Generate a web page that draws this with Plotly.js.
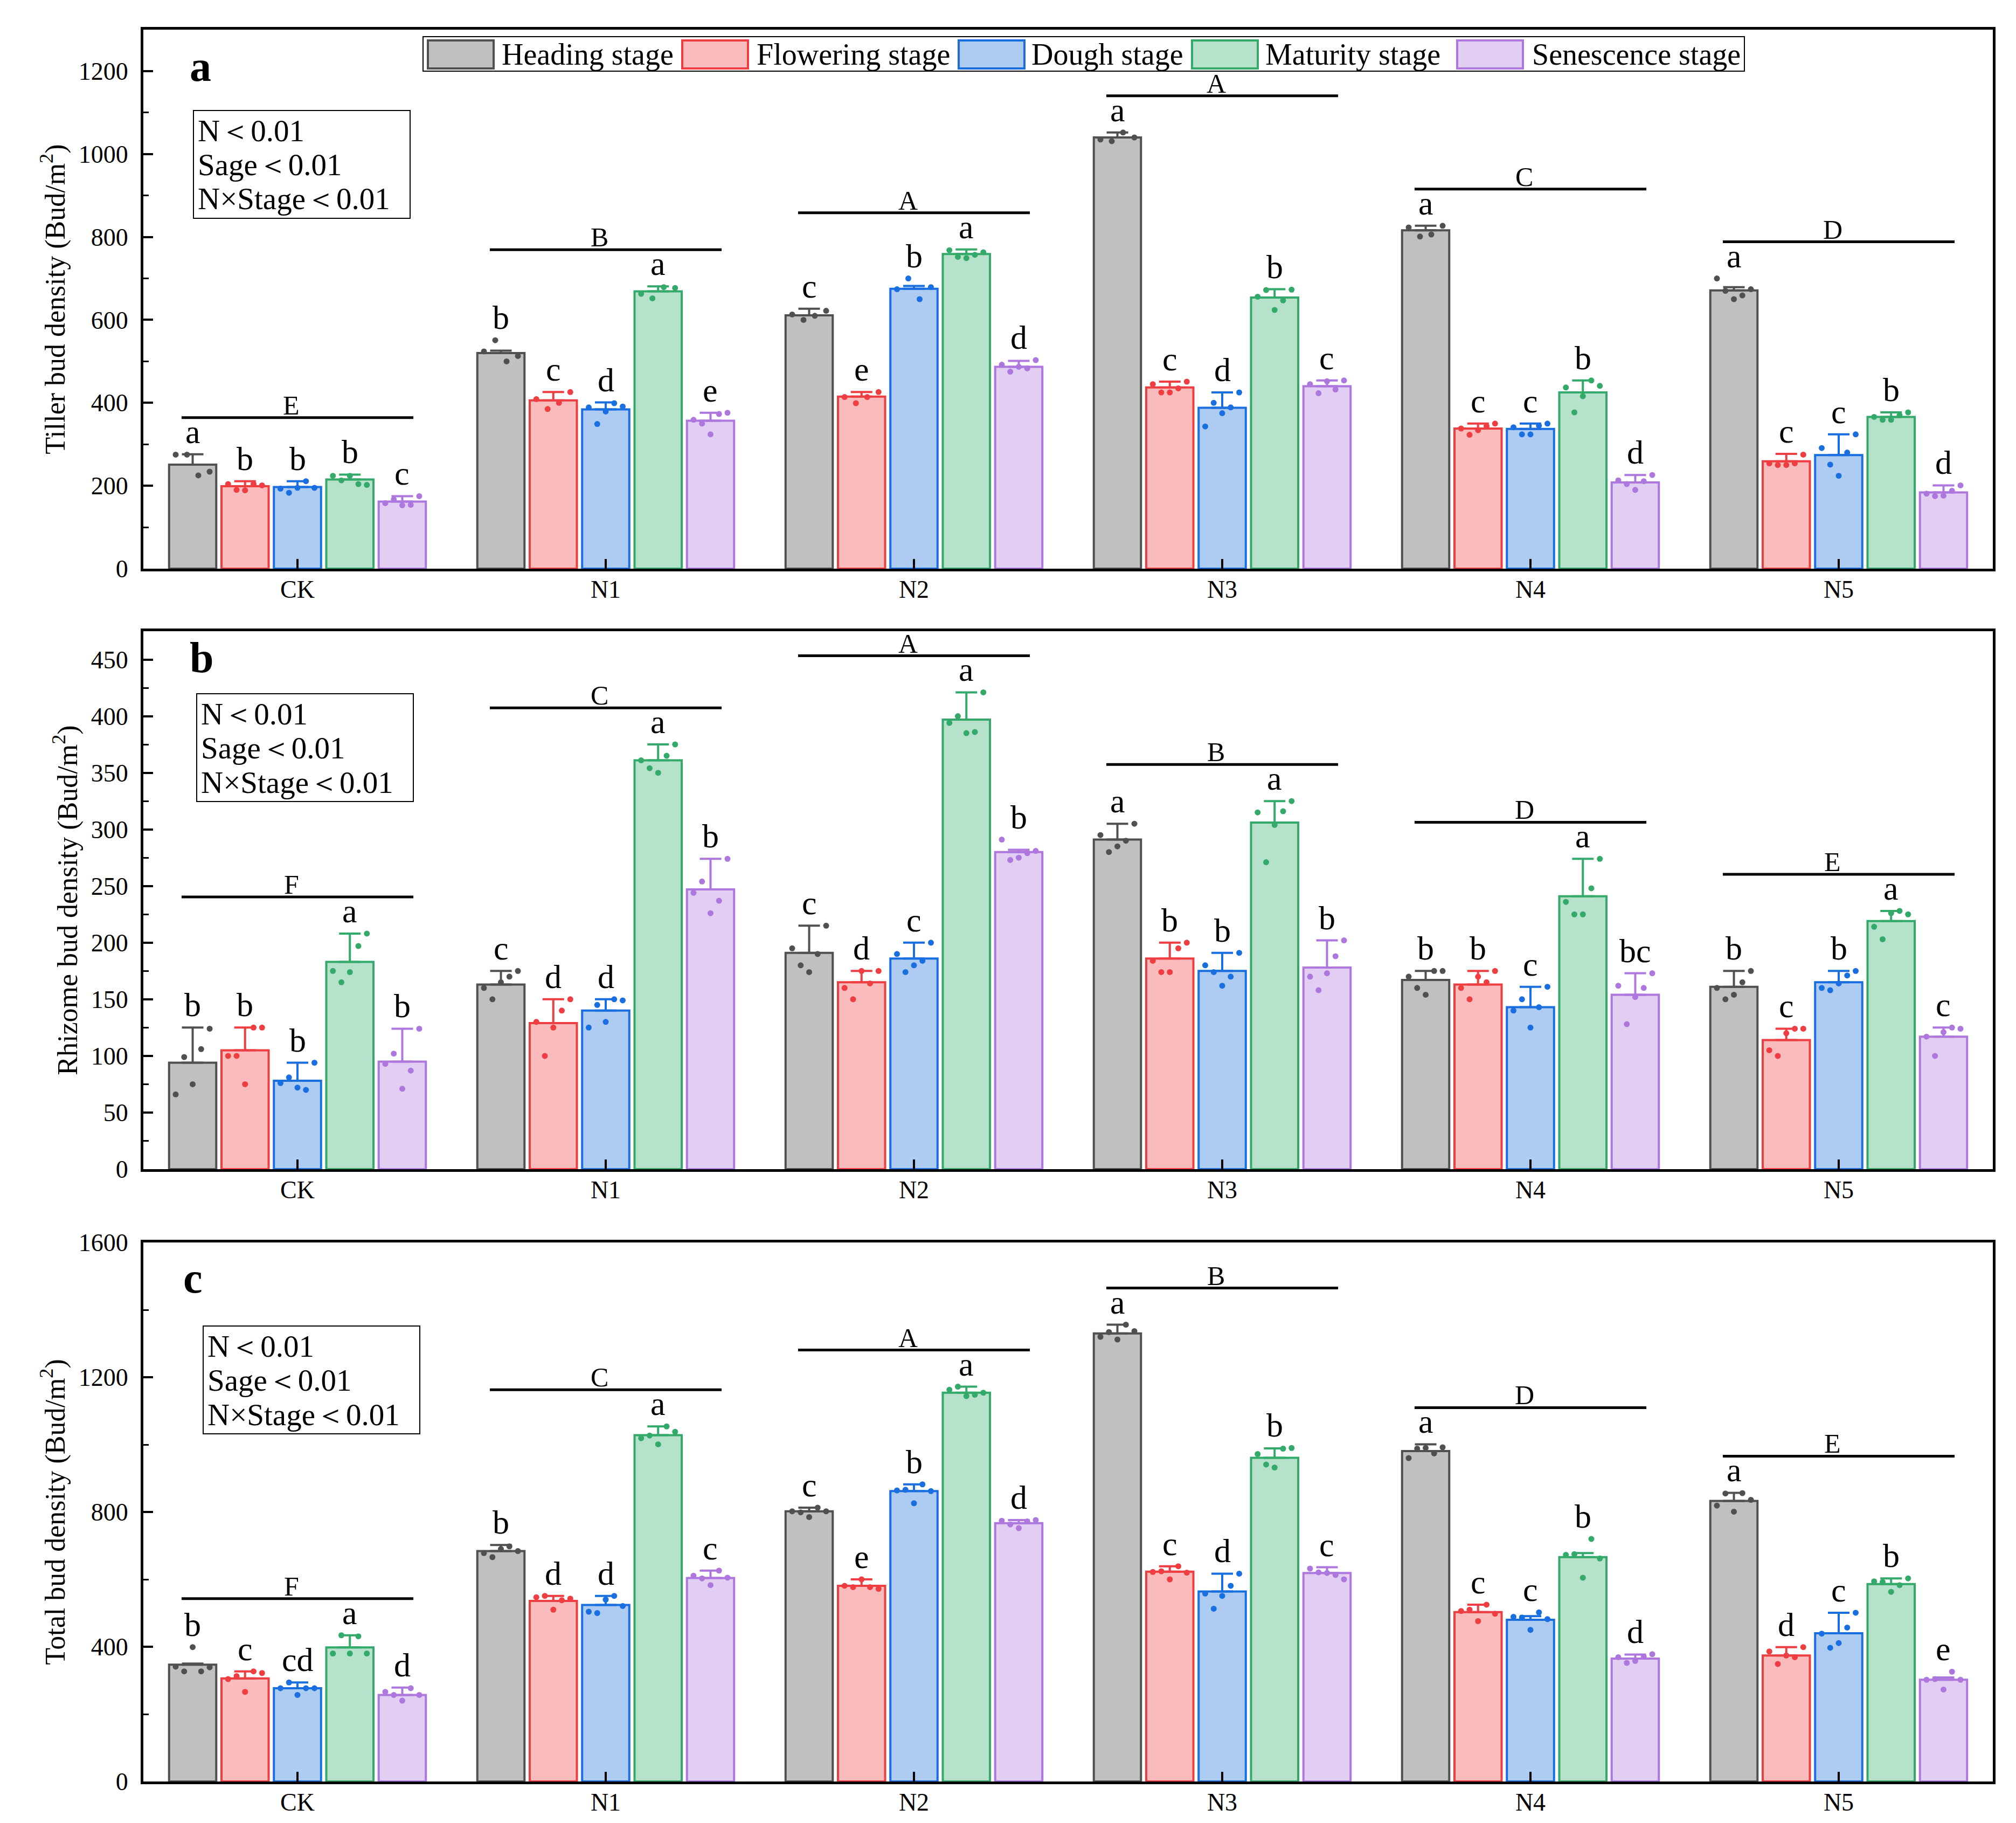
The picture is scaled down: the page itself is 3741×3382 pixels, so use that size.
<!DOCTYPE html>
<html>
<head>
<meta charset="utf-8">
<script src="https://cdn.plot.ly/plotly-3.0.1.min.js"></script>
<style>
html,body{margin:0;padding:0;background:#ffffff;}
#chart{width:3741px;height:3382px;}
</style>
</head>
<body>
<div id="chart"></div>
<script>
// ---------------- DATA ----------------
const categories = ['CK', 'N1', 'N2', 'N3', 'N4', 'N5'];
const stages = ['Heading stage', 'Flowering stage', 'Dough stage', 'Maturity stage', 'Senescence stage'];

// Panel a: tiller bud density (rows = stages, columns = categories)
const tillerMean = [
  [251, 520, 611, 1040, 816, 671],
  [199, 406, 415, 437, 338, 259],
  [197, 384, 675, 388, 337, 274],
  [215, 669, 759, 654, 425, 366],
  [162, 357, 487, 440, 208, 184]
];
const tillerErr = [
  [25, 6, 16, 12, 11, 8],
  [12, 20, 11, 14, 12, 18],
  [14, 17, 7, 37, 13, 50],
  [12, 12, 11, 20, 29, 11],
  [13, 19, 14, 14, 18, 17]
];
const tillerPts = [
  [[275,275,225,234],[524,551,500,513],[613,600,610,622],[1035,1031,1052,1040],[823,801,806,827],[700,670,650,659,674]],
  [[204,190,189,204,201],[409,385,400,426],[414,399,414,426],[445,425,425,435,451],[338,323,334,344,350],[254,250,250,254,275]],
  [[193,183,195,211,195],[389,349,379,399,391],[674,700,650,679],[343,400,375,389,425],[341,324,324,345,350],[291,251,224,280,324]],
  [[224,213,224,204,202],[663,652,679,677],[768,752,749,757,763],[656,672,624,647,673],[437,377,416,454,441],[366,359,359,370,377]],
  [[158,167,153,154,175],[359,350,324,373,376],[492,475,487,483,503],[445,423,452,432,454],[213,204,190,211,226],[181,175,176,188,201]]
];
const tillerSig = [
  ['a','b','c','a','a','a'],
  ['b','c','e','c','c','c'],
  ['b','d','b','d','c','c'],
  ['b','a','a','b','b','b'],
  ['c','e','d','c','d','d']
];
const tillerGroupSig = ['E', 'B', 'A', 'A', 'C', 'D'];

// Panel b: rhizome bud density
const rhizomeMean = [
  [94, 163, 191, 291, 167, 161],
  [105, 129, 165, 186, 163, 114],
  [78, 140, 186, 175, 143, 165],
  [183, 361, 397, 306, 241, 219],
  [95, 247, 280, 178, 154, 117]
];
const rhizomeErr = [
  [31, 12, 24, 14, 8, 14],
  [20, 21, 10, 14, 12, 10],
  [16, 10, 14, 16, 18, 10],
  [25, 14, 24, 19, 33, 9],
  [29, 27, 2, 24, 19, 8]
];
const rhizomePts = [
  [[66,99,75,106,124],[160,150,165,170,175],[195,180,174,190,215],[295,280,285,290,305],[170,160,154,175,175],[160,150,154,165,175]],
  [[100,100,75,125,125],[130,100,125,140,150],[160,150,175,164,175],[184,174,174,195,200],[160,150,170,165,175],[105,100,120,124,124]],
  [[76,81,72,70,94],[125,145,130,150,149],[190,174,180,184,200],[180,174,162,170,191],[140,150,125,143,161],[160,158,164,171,175]],
  [[175,165,174,197,208],[361,354,350,365,375],[394,400,385,386,421],[315,271,304,316,325],[236,225,225,248,274],[214,203,226,228,225]],
  [[93,102,71,87,124],[244,254,226,237,274],[291,273,275,279,281],[170,158,173,188,202],[162,128,152,160,173],[117,100,121,125,124]]
];
const rhizomeSig = [
  ['b','c','c','a','b','b'],
  ['b','d','d','b','b','c'],
  ['b','d','c','b','c','b'],
  ['a','a','a','a','a','a'],
  ['b','b','b','b','bc','c']
];
const rhizomeGroupSig = ['F', 'C', 'A', 'B', 'D', 'E'];

// Panel c: total bud density
const totalMean = [
  [347, 684, 802, 1330, 981, 833],
  [306, 536, 581, 623, 503, 374],
  [277, 524, 862, 564, 480, 440],
  [398, 1028, 1154, 961, 666, 586],
  [257, 604, 767, 619, 365, 302]
];
const totalErr = [
  [3, 18, 11, 26, 20, 24],
  [21, 15, 19, 16, 22, 25],
  [17, 27, 20, 53, 11, 61],
  [36, 26, 18, 28, 12, 17],
  [22, 22, 9, 17, 12, 7]
];
const totalPts = [
  [[341,327,399,327,339],[678,666,690,698,684],[802,799,785,813,802],[1320,1334,1312,1356,1337],[960,988,990,974,992],[819,855,801,856,836]],
  [[304,313,266,327,322],[547,551,510,538,543],[581,577,600,577,572],[622,624,600,639,620],[506,510,476,525,498],[386,349,374,369,399]],
  [[277,294,257,277,277],[504,500,540,551,521],[864,866,826,882,862],[558,513,551,581,617],[489,487,450,502,482],[439,397,411,457,501]],
  [[380,434,380,431,380],[1019,1027,1001,1054,1038],[1163,1172,1144,1148,1154],[972,941,932,988,990],[673,675,605,720,662],[594,592,563,583,603]],
  [[266,257,240,277,257],[611,603,583,626,605],[774,763,752,772,776],[632,621,619,613,600],[369,352,358,371,378],[302,304,273,326,302]]
];
const totalSig = [
  ['b','b','c','a','a','a'],
  ['c','d','e','c','c','d'],
  ['cd','d','b','d','c','c'],
  ['a','a','a','b','b','b'],
  ['d','c','d','c','d','e']
];
const totalGroupSig = ['F', 'C', 'A', 'B', 'D', 'E'];

const statsLines = ['N\uFF1C0.01', 'Sage\uFF1C0.01', 'N\u00D7Stage\uFF1C0.01'];

// ---------------- STYLE ----------------
const FONT = 'Liberation Serif, Times New Roman, serif';
const fillColors = ['#c0c0c0', '#f9bbbb', '#aecbf2', '#b6e2cc', '#e2cef3'];
const lineColors = ['#505050', '#ef3e42', '#1a6fe0', '#34aa6a', '#ad77de'];

const W = 3741, H = 3382;
const PL = 266, PR = 3698, PT = 55, PB = 3305;
const BARGAP = 0.15, BARGROUPGAP = 0.1;
const SLOT = (1 - BARGAP) / stages.length;
const BARW = SLOT * (1 - BARGROUPGAP);

const panels = [
  {mean: tillerMean, err: tillerErr, pts: tillerPts, sig: tillerSig, group: tillerGroupSig,
   title: 'Tiller bud density (Bud/m<sup>2</sup>)', range: [0, 1300], dtick: 200, minor: 100,
   top: 55, bottom: 1055, letter: 'a', letterX: 350, letterBase: 151, boxX: 359, boxY: 205},
  {mean: rhizomeMean, err: rhizomeErr, pts: rhizomePts, sig: rhizomeSig, group: rhizomeGroupSig,
   title: 'Rhizome bud density (Bud/m<sup>2</sup>)', range: [0, 475], dtick: 50, minor: 25,
   top: 1171, bottom: 2169, letter: 'b', letterX: 350, letterBase: 1248, boxX: 365, boxY: 1287},
  {mean: totalMean, err: totalErr, pts: totalPts, sig: totalSig, group: totalGroupSig,
   title: 'Total bud density (Bud/m<sup>2</sup>)', range: [0, 1600], dtick: 400, minor: 200,
   top: 2305, bottom: 3305, letter: 'c', letterX: 338, letterBase: 2399, boxX: 377, boxY: 2460}
];

const dx = px => (px - PL) / (PR - PL);
const dyOf = (p, py) => (p.bottom - py) / (p.bottom - p.top);

const traces = [];
const annotations = [];
const shapes = [];
const layout = {
  width: W, height: H,
  margin: {l: PL, r: W - PR, t: PT, b: H - PB, pad: 0},
  paper_bgcolor: '#ffffff', plot_bgcolor: '#ffffff',
  barmode: 'group', bargap: BARGAP, bargroupgap: BARGROUPGAP,
  showlegend: false, hovermode: false,
  font: {family: FONT, color: '#000000', size: 46}
};

panels.forEach((p, pi) => {
  const s = pi === 0 ? '' : String(pi + 1);
  const xa = 'x' + s, ya = 'y' + s;
  const xs = categories.map((c, i) => i);

  layout['xaxis' + s] = {
    domain: [0, 1], anchor: ya, range: [-0.5, categories.length - 0.5],
    tickmode: 'array', tickvals: xs, ticktext: categories,
    ticks: 'inside', ticklen: 18, tickwidth: 4, tickcolor: '#000',
    showline: true, linecolor: '#000', linewidth: 5, mirror: true,
    showgrid: false, zeroline: false, ticklabelstandoff: -6,
    tickfont: {family: FONT, size: 46, color: '#000'}
  };
  layout['yaxis' + s] = {
    domain: [(PB - p.bottom) / (PB - PT), (PB - p.top) / (PB - PT)], anchor: xa,
    range: p.range, tick0: 0, dtick: p.dtick,
    ticks: 'inside', ticklen: 18, tickwidth: 4, tickcolor: '#000',
    minor: {ticks: 'inside', ticklen: 10, tickwidth: 3, tickcolor: '#000', dtick: p.minor, tick0: 0, showgrid: false},
    showline: true, linecolor: '#000', linewidth: 5, mirror: true,
    showgrid: false, zeroline: false, ticklabelstandoff: 14,
    tickfont: {family: FONT, size: 46, color: '#000'},
    title: {text: p.title, font: {family: FONT, size: 52, color: '#000'}, standoff: 10}
  };

  stages.forEach((st, k) => {
    traces.push({
      type: 'bar', name: st, x: xs, y: p.mean[k], xaxis: xa, yaxis: ya,
      marker: {color: fillColors[k], line: {color: lineColors[k], width: 4}},
      error_y: {type: 'data', symmetric: false, array: p.err[k], arrayminus: p.err[k].map(() => 0),
                color: lineColors[k], thickness: 4, width: 20},
      showlegend: false
    });
  });

  stages.forEach((st, k) => {
    const px = [], py = [];
    p.pts[k].forEach((vals, i) => {
      const n = vals.length;
      vals.forEach((v, j) => {
        const f = n > 1 ? (j / (n - 1) - 0.5) : 0;
        px.push(i + (k - 2) * SLOT + f * 0.72 * BARW);
        py.push(v);
      });
    });
    traces.push({
      type: 'scatter', mode: 'markers', x: px, y: py, xaxis: xa, yaxis: ya,
      marker: {color: lineColors[k], size: 11, line: {width: 0}},
      showlegend: false, cliponaxis: false
    });
  });

  // top of each bar's marks (error bar or highest point)
  const topOf = (k, i) => Math.max(p.mean[k][i] + p.err[k][i], Math.max.apply(null, p.pts[k][i]));

  // significance letters above bars
  stages.forEach((st, k) => {
    categories.forEach((c, i) => {
      annotations.push({
        xref: xa, yref: ya, x: i + (k - 2) * SLOT, y: topOf(k, i),
        text: p.sig[k][i], showarrow: false, xanchor: 'center', yanchor: 'bottom', yshift: 6,
        font: {family: FONT, size: 62, color: '#000'}
      });
    });
  });

  // group brackets
  const span = p.range[1] - p.range[0];
  categories.forEach((c, i) => {
    let mx = 0;
    stages.forEach((st, k) => { mx = Math.max(mx, topOf(k, i)); });
    const level = mx + 0.068 * span;
    shapes.push({type: 'line', xref: xa, yref: ya, x0: i - 0.376, x1: i + 0.376, y0: level, y1: level,
                 line: {color: '#000', width: 5}});
    annotations.push({
      xref: xa, yref: ya, x: i - 0.02, y: level, text: p.group[i], showarrow: false,
      xanchor: 'center', yanchor: 'bottom', yshift: -7,
      font: {family: FONT, size: 50, color: '#000'}
    });
  });

  // panel letter
  annotations.push({
    xref: xa + ' domain', yref: ya + ' domain', x: dx(p.letterX), y: dyOf(p, p.letterBase + 18),
    text: '<b>' + p.letter + '</b>', showarrow: false, xanchor: 'left', yanchor: 'bottom',
    font: {family: FONT, size: 80, color: '#000'}
  });

  // stats box
  shapes.push({type: 'rect', xref: xa + ' domain', yref: ya + ' domain',
    x0: dx(p.boxX), x1: dx(p.boxX + 402), y0: dyOf(p, p.boxY + 200), y1: dyOf(p, p.boxY),
    line: {color: '#000', width: 2}, fillcolor: 'rgba(0,0,0,0)'});
  statsLines.forEach((t, li) => {
    annotations.push({
      xref: xa + ' domain', yref: ya + ' domain', x: dx(p.boxX + 6), y: dyOf(p, p.boxY + 37 + li * 63.5),
      text: t, showarrow: false, xanchor: 'left', yanchor: 'middle', align: 'left',
      font: {family: FONT, size: 57, color: '#000'}
    });
  });
});

// custom legend in panel a
const pa = panels[0];
const legBox = {x0: 785, x1: 3237, y0: 68, y1: 132};
shapes.push({type: 'rect', xref: 'x domain', yref: 'y domain',
  x0: dx(legBox.x0), x1: dx(legBox.x1), y0: dyOf(pa, legBox.y1), y1: dyOf(pa, legBox.y0),
  line: {color: '#000', width: 2}, fillcolor: '#ffffff'});
const swatchX = [794, 1266, 1779, 2212, 2704];
const textX = [933, 1406, 1916, 2350, 2845];
stages.forEach((st, k) => {
  shapes.push({type: 'rect', xref: 'x domain', yref: 'y domain',
    x0: dx(swatchX[k]), x1: dx(swatchX[k] + 122), y0: dyOf(pa, 127), y1: dyOf(pa, 75),
    line: {color: lineColors[k], width: 4}, fillcolor: fillColors[k]});
  annotations.push({
    xref: 'x domain', yref: 'y domain', x: dx(textX[k] - 4), y: dyOf(pa, 101),
    text: st, showarrow: false, xanchor: 'left', yanchor: 'middle',
    font: {family: FONT, size: 56, color: '#000'}
  });
});

layout.annotations = annotations;
layout.shapes = shapes;

Plotly.newPlot('chart', traces, layout, {displayModeBar: false, responsive: false});
</script>
</body>
</html>
